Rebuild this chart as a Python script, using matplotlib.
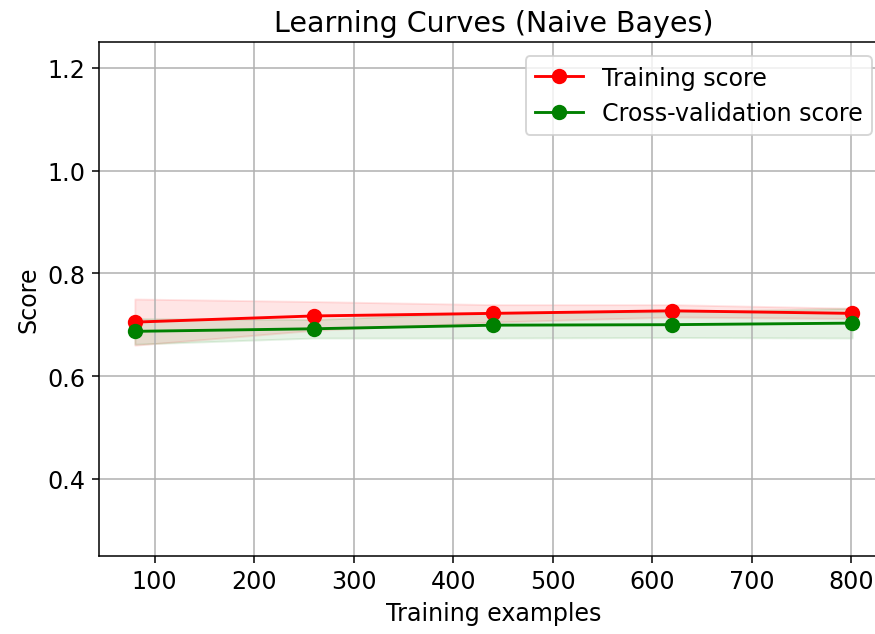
"""
Learning curve plot for the Naive Bayes classifier.
"""
import matplotlib
matplotlib.use("Agg")
import matplotlib.pyplot as plt
import numpy as np

# training set sizes and mean/std of the fold scores
train_sizes = np.array([80, 260, 440, 620, 801])
train_scores_mean = np.array([0.705, 0.717, 0.722, 0.727, 0.722])
train_scores_std = np.array([0.045, 0.028, 0.017, 0.012, 0.010])
test_scores_mean = np.array([0.687, 0.692, 0.699, 0.700, 0.703])
test_scores_std = np.array([0.025, 0.018, 0.025, 0.025, 0.029])

title = "Learning Curves (Naive Bayes)"
ylim = (0.25, 1.25)

plt.rcParams["font.size"] = 12.4
dpi = 138
fig = plt.figure(figsize=(875 / dpi, 635 / dpi), dpi=dpi)
# axes run past the right border of the image
ax = fig.add_axes([99 / 875, 1 - 556.7 / 635, 789 / 875, 513.4 / 635])

ax.set_title(title)
ax.set_ylim(*ylim)
ax.set_xlabel("Training examples")
ax.set_ylabel("Score")
ax.grid()

ax.fill_between(train_sizes, train_scores_mean - train_scores_std,
                train_scores_mean + train_scores_std, alpha=0.1, color="r")
ax.fill_between(train_sizes, test_scores_mean - test_scores_std,
                test_scores_mean + test_scores_std, alpha=0.1, color="g")
ax.plot(train_sizes, train_scores_mean, 'o-', color="r", ms=7, label="Training score")
ax.plot(train_sizes, test_scores_mean, 'o-', color="g", ms=7, label="Cross-validation score")
ax.set_xlim(44, 837)

ax.legend(loc="upper right", bbox_to_anchor=(872 / 875, 1 - 57 / 635),
          bbox_transform=fig.transFigure, borderaxespad=0)

fig.savefig("out.png", dpi=dpi)
plt.close("all")
